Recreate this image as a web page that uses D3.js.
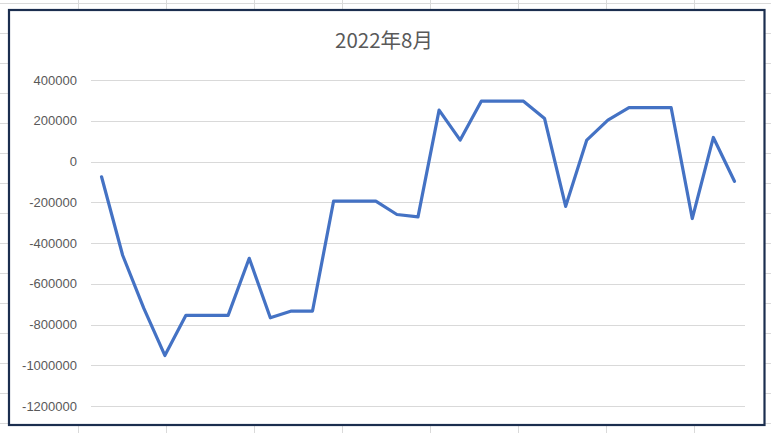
<!DOCTYPE html>
<html>
<head>
<meta charset="utf-8">
<script src="https://cdn.jsdelivr.net/npm/d3@7"></script>
<style>
  html, body { margin: 0; padding: 0; background: #fff; }
  svg { display: block; }
</style>
</head>
<body>
<div id="chart"></div>
<script>
// Days of August 2022
const days = [1, 2, 3, 4, 5, 6, 7, 8, 9, 10, 11, 12, 13, 14, 15, 16,
              17, 18, 19, 20, 21, 22, 23, 24, 25, 26, 27, 28, 29, 30, 31];

// Daily values
const values = [-75000, -460000, -720000, -952000, -755000, -755000, -755000, -475000,
                -767000, -734000, -734000, -194000, -194000, -194000, -260000, -272000,
                252000, 105000, 296000, 296000, 296000, 211000, -220000, 105000,
                203000, 264000, 264000, 264000, -280000, 118000, -97000];

const yTicks = [400000, 200000, 0, -200000, -400000, -600000, -800000, -1000000, -1200000];
const title = '2022年8月';

const W = 771, H = 433;

let svg = d3.select('#chart').append('svg')
    .attr('width', W)
    .attr('height', H);

// spreadsheet cells behind the chart
let cells = svg.append('g').attr('stroke', '#dadada').attr('stroke-width', 1);
for (let y = 3.5; y < H; y += 30) {
    cells.append('line').attr('x1', 0).attr('x2', W).attr('y1', y).attr('y2', y);
}
for (let x = 78.5; x < W; x += 88) {
    cells.append('line').attr('x1', x).attr('x2', x).attr('y1', 0).attr('y2', H);
}

// chart frame
svg.append('rect')
    .attr('x', 9)
    .attr('y', 10)
    .attr('width', 755.5)
    .attr('height', 415)
    .attr('fill', '#fff')
    .attr('stroke', '#1b2e4f')
    .attr('stroke-width', 2.2);

let x = d3.scaleBand()
    .domain(days)
    .range([91, 745]);

let y = d3.scaleLinear()
    .domain([-1200000, 400000])
    .range([406, 80]);

// gridlines
svg.append('g')
    .selectAll('line')
    .data(yTicks)
    .join('line')
    .attr('x1', 91)
    .attr('x2', 745)
    .attr('y1', d => Math.round(y(d)) + 0.5)
    .attr('y2', d => Math.round(y(d)) + 0.5)
    .attr('stroke', '#d9d9d9')
    .attr('stroke-width', 1);

// y axis labels
let yAxis = d3.axisLeft(y)
    .tickValues(yTicks)
    .tickSize(0)
    .tickPadding(0)
    .tickFormat(d => String(d));

svg.append('g')
    .attr('transform', 'translate(77,0)')
    .call(yAxis)
    .call(g => g.select('.domain').remove())
    .selectAll('text')
    .attr('fill', '#595959')
    .attr('font-family', '"Liberation Sans", Arial, sans-serif')
    .attr('font-size', '13px');

// the line
let line = d3.line()
    .x((d, i) => x(days[i]) + x.bandwidth() / 2)
    .y(d => y(d));

svg.append('path')
    .datum(values)
    .attr('d', line)
    .attr('fill', 'none')
    .attr('stroke', '#4472c4')
    .attr('stroke-width', 3.2)
    .attr('stroke-linejoin', 'round')
    .attr('stroke-linecap', 'round');

// title
svg.append('text')
    .attr('x', 384)
    .attr('y', 48)
    .attr('text-anchor', 'middle')
    .attr('fill', '#595959')
    .attr('font-family', '"Noto Sans CJK SC", "Noto Sans", sans-serif')
    .attr('font-size', '20.5px')
    .text(title);
</script>
</body>
</html>
